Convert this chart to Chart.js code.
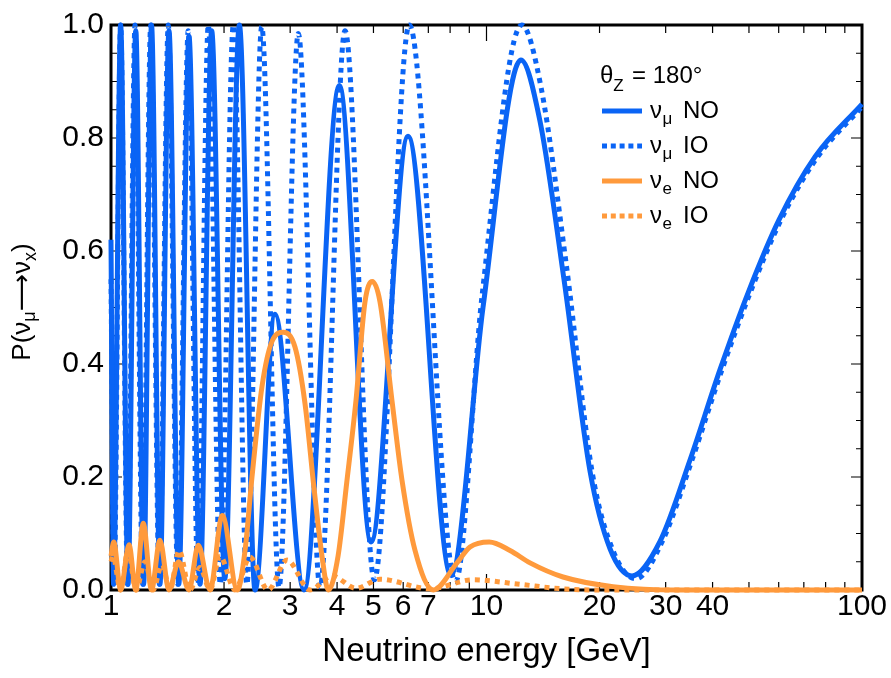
<!DOCTYPE html>
<html>
<head>
<meta charset="utf-8">
<title>Oscillation probabilities, core-crossing neutrinos</title>
<script src="https://cdn.jsdelivr.net/npm/chart.js@4.4.1/dist/chart.umd.min.js"></script>
<style>
  html, body { margin: 0; padding: 0; background: #ffffff; }
  canvas { display: block; }
</style>
</head>
<body>
<canvas id="chart" width="891" height="678"></canvas>
<script>
// P(nu_mu -> nu_mu), normal ordering (energy in GeV, probability)
const muNO_E = [1.000, 1.016, 1.061, 1.110, 1.164, 1.221, 1.282, 1.350, 1.427, 1.515,
                1.613, 1.726, 1.854, 2.009, 2.197, 2.419, 2.734, 3.266, 4.056, 4.925,
                6.180, 8.044, 9.788, 12.35, 13.88, 16.08, 18.87, 21.33, 24.41, 28.98,
                34.83, 41.86, 50.0, 60.1, 75.0, 100];
const muNO_P = [0.62, 0.01, 1.00, 0.01, 0.99, 0.01, 1.00, 0.01, 0.99, 0.01,
                0.98, 0.01, 0.99, 0.02, 1.00, 0.00, 0.488, 0.00, 0.893, 0.085,
                0.803, 0.026, 0.50, 0.938, 0.83, 0.55, 0.21, 0.073, 0.025, 0.086,
                0.23, 0.39, 0.53, 0.655, 0.767, 0.86];

// P(nu_mu -> nu_mu), inverted ordering
const muIO_E = [1.000, 1.019, 1.061, 1.107, 1.159, 1.214, 1.276, 1.345, 1.421, 1.508,
                1.606, 1.705, 1.816, 1.955, 2.117, 2.300, 2.520, 2.802, 3.154, 3.603,
                4.200, 5.026, 6.229, 8.269, 9.728, 12.41, 13.97, 16.28, 19.10, 21.72,
                25.01, 29.34, 35.26, 42.38, 50.64, 60.85, 75.89, 100];
const muIO_P = [0.55, 0.01, 1.00, 0.01, 1.00, 0.01, 1.00, 0.01, 1.00, 0.01,
                0.99, 0.01, 1.00, 0.01, 1.00, 0.01, 0.997, 0.005, 0.985, 0.005,
                0.99, 0.018, 1.00, 0.015, 0.52, 1.00, 0.89, 0.58, 0.21, 0.07,
                0.02, 0.085, 0.23, 0.39, 0.53, 0.655, 0.765, 0.855];

// P(nu_mu -> nu_e), normal ordering
const eNO_E = [1.000, 1.017, 1.061, 1.117, 1.164, 1.219, 1.282, 1.350, 1.427, 1.513,
               1.613, 1.708, 1.835, 1.979, 2.170, 2.275, 2.374, 2.524, 2.684, 2.877,
               3.090, 3.286, 3.473, 3.647, 3.791, 4.024, 4.244, 4.491, 4.747, 4.965,
               5.204, 5.602, 5.957, 6.451, 7.217, 8.345, 9.037, 10.17, 11.55, 13.06,
               15.99, 21.72, 32.76, 100];
const eNO_P = [0.06, 0.085, 0.0, 0.08, 0.0, 0.118, 0.0, 0.088, 0.0, 0.05,
               0.0, 0.079, 0.0, 0.132, 0.0, 0.07, 0.20, 0.36, 0.44, 0.456,
               0.43, 0.33, 0.18, 0.06, 0.0, 0.06, 0.19, 0.335, 0.51, 0.546,
               0.51, 0.335, 0.194, 0.07, 0.0, 0.048, 0.076, 0.085, 0.07, 0.048,
               0.023, 0.006, 0.0, 0.0];

// P(nu_mu -> nu_e), inverted ordering
const eIO_E = [1.000, 1.012, 1.060, 1.110, 1.166, 1.232, 1.294, 1.367, 1.436, 1.518,
               1.623, 1.726, 1.835, 1.951, 2.139, 2.346, 2.619, 2.943, 3.388, 3.878,
               4.491, 5.204, 7.072, 9.205, 12.28, 15.99, 20.06, 100];
const eIO_P = [0.05, 0.06, 0.0, 0.07, 0.0, 0.05, 0.0, 0.045, 0.0, 0.07,
               0.0, 0.04, 0.0, 0.06, 0.0, 0.058, 0.0, 0.053, 0.0, 0.025,
               0.003, 0.019, 0.002, 0.018, 0.01, 0.002, 0.0, 0.0];

// Axis labels and tick marks
const xTickLabels = [1, 2, 3, 4, 5, 6, 7, 10, 20, 30, 40, 100];
const xTickMarks = [2, 3, 4, 5, 6, 7, 8, 9, 10, 20, 30, 40, 50, 60, 70, 80, 90];
const xLongTicks = [10];
const yTickLabels = [0, 0.2, 0.4, 0.6, 0.8, 1.0];
const yTickMarks = [0.05, 0.1, 0.15, 0.2, 0.25, 0.3, 0.35, 0.4, 0.45, 0.5,
                    0.55, 0.6, 0.65, 0.7, 0.75, 0.8, 0.85, 0.9, 0.95];
const yLongTicks = [0.2, 0.4, 0.6, 0.8];

const BLUE = '#0a64f5';
const ORANGE = '#ff9a3c';
const FONT = '"Liberation Sans", Arial, Helvetica, sans-serif';

const pairs = (xs, ys) => xs.map((e, i) => ({ x: e, y: ys[i] }));

const legendRows = [
  { sub: 'μ', label: 'NO', color: BLUE, dash: [] },
  { sub: 'μ', label: 'IO', color: BLUE, dash: [5, 3.8] },
  { sub: 'e', label: 'NO', color: ORANGE, dash: [] },
  { sub: 'e', label: 'IO', color: ORANGE, dash: [5, 3.8] }
];

// Frame and inward tick marks on all four sides
const frameTicks = {
  id: 'frameTicks',
  beforeDatasetsDraw(chart) {
    const { ctx, chartArea: a, scales: { x, y } } = chart;
    ctx.save();
    ctx.strokeStyle = '#000';
    ctx.lineWidth = 1.2;
    ctx.beginPath();
    xTickMarks.forEach(v => {
      const px = x.getPixelForValue(v);
      const len = xLongTicks.includes(v) ? 16 : 8;
      ctx.moveTo(px, a.bottom); ctx.lineTo(px, a.bottom - len);
      ctx.moveTo(px, a.top); ctx.lineTo(px, a.top + len);
    });
    yTickMarks.forEach(v => {
      const py = y.getPixelForValue(v);
      const len = yLongTicks.includes(v) ? 11 : 6;
      ctx.moveTo(a.left, py); ctx.lineTo(a.left + len, py);
      ctx.moveTo(a.right, py); ctx.lineTo(a.right - len, py);
    });
    ctx.stroke();
    ctx.lineWidth = 3;
    ctx.strokeRect(a.left, a.top, a.right - a.left, a.bottom - a.top);
    ctx.restore();
  }
};

// Rotated y-axis title with subscripts, and the legend block
const annotations = {
  id: 'annotations',
  afterDraw(chart) {
    const ctx = chart.ctx;
    ctx.save();
    ctx.fillStyle = '#000';
    ctx.textBaseline = 'alphabetic';
    ctx.textAlign = 'left';

    // y title: P(nu_mu -> nu_x)
    const main = '26px ' + FONT;
    const sub = '18px ' + FONT;
    const arrow = '26px "DejaVu Sans", sans-serif';
    const parts = [
      { t: 'P(ν', f: main, dy: 0 },
      { t: 'μ', f: sub, dy: 5 },
      { t: '⟶', f: arrow, dy: 0 },
      { t: 'ν', f: main, dy: 0 },
      { t: 'x', f: sub, dy: 6 },
      { t: ')', f: main, dy: 0 }
    ];
    let total = 0;
    parts.forEach(p => { ctx.font = p.f; p.w = ctx.measureText(p.t).width; total += p.w; });
    ctx.translate(30, 302);
    ctx.rotate(-Math.PI / 2);
    let cx = -total / 2;
    parts.forEach(p => { ctx.font = p.f; ctx.fillText(p.t, cx, p.dy); cx += p.w; });
    ctx.setTransform(1, 0, 0, 1, 0, 0);

    // legend header
    ctx.font = '24px ' + FONT;
    ctx.fillText('θ', 600, 83);
    const tw = ctx.measureText('θ').width;
    ctx.font = '17px ' + FONT;
    ctx.fillText('Z', 600 + tw, 91);
    ctx.font = '24px ' + FONT;
    ctx.fillText('= 180°', 632, 83);

    // legend entries
    legendRows.forEach((r, i) => {
      const ly = 111 + 35 * i;
      const by = 118 + 35 * i;
      ctx.save();
      ctx.strokeStyle = r.color;
      ctx.lineWidth = 5;
      ctx.lineCap = 'butt';
      ctx.setLineDash(r.dash);
      ctx.beginPath();
      ctx.moveTo(602, ly);
      ctx.lineTo(642, ly);
      ctx.stroke();
      ctx.restore();
      ctx.font = '24px ' + FONT;
      ctx.fillText('ν', 650, by);
      const nw = ctx.measureText('ν').width;
      ctx.font = '17px ' + FONT;
      ctx.fillText(r.sub, 650 + nw + 0.5, by + 6);
      ctx.font = '24px ' + FONT;
      ctx.fillText(r.label, 683, by);
    });
    ctx.restore();
  }
};

const lineStyle = (color, dash, order) => ({
  borderColor: color,
  backgroundColor: color,
  borderWidth: 5,
  borderDash: dash,
  borderCapStyle: 'butt',
  borderJoinStyle: 'round',
  pointRadius: 0,
  fill: false,
  cubicInterpolationMode: 'monotone',
  clip: 4,
  order: order
});

new Chart(document.getElementById('chart'), {
  type: 'line',
  data: {
    datasets: [
      { label: 'νμ NO', data: pairs(muNO_E, muNO_P), ...lineStyle(BLUE, [], 4) },
      { label: 'νμ IO', data: pairs(muIO_E, muIO_P), ...lineStyle(BLUE, [5, 5], 3) },
      { label: 'νe NO', data: pairs(eNO_E, eNO_P), ...lineStyle(ORANGE, [], 2) },
      { label: 'νe IO', data: pairs(eIO_E, eIO_P), ...lineStyle(ORANGE, [5, 5], 1) }
    ]
  },
  options: {
    responsive: false,
    animation: false,
    devicePixelRatio: 1,
    layout: { padding: { top: 23, right: 29, bottom: 0, left: 0 } },
    plugins: { legend: { display: false }, tooltip: { enabled: false } },
    scales: {
      x: {
        type: 'logarithmic',
        min: 1,
        max: 100,
        afterBuildTicks: s => { s.ticks = xTickLabels.map(v => ({ value: v })); },
        afterFit: s => { s.height = 88; },
        grid: { display: false, drawTicks: false },
        border: { display: false },
        ticks: {
          autoSkip: false, maxRotation: 0, minRotation: 0, padding: -1,
          color: '#000', font: { family: FONT, size: 30 },
          callback: v => String(v)
        },
        title: {
          display: true, text: 'Neutrino energy [GeV]', color: '#000',
          font: { family: FONT, size: 33 }, padding: { top: 0, bottom: 6 }
        }
      },
      y: {
        min: 0,
        max: 1,
        afterBuildTicks: s => { s.ticks = yTickLabels.map(v => ({ value: v })); },
        afterFit: s => { s.width = 111; },
        grid: { display: false, drawTicks: false },
        border: { display: false },
        ticks: {
          padding: 7, color: '#000', font: { family: FONT, size: 30 },
          callback: v => Number(v).toFixed(1)
        }
      }
    }
  },
  plugins: [frameTicks, annotations]
});
</script>
</body>
</html>
